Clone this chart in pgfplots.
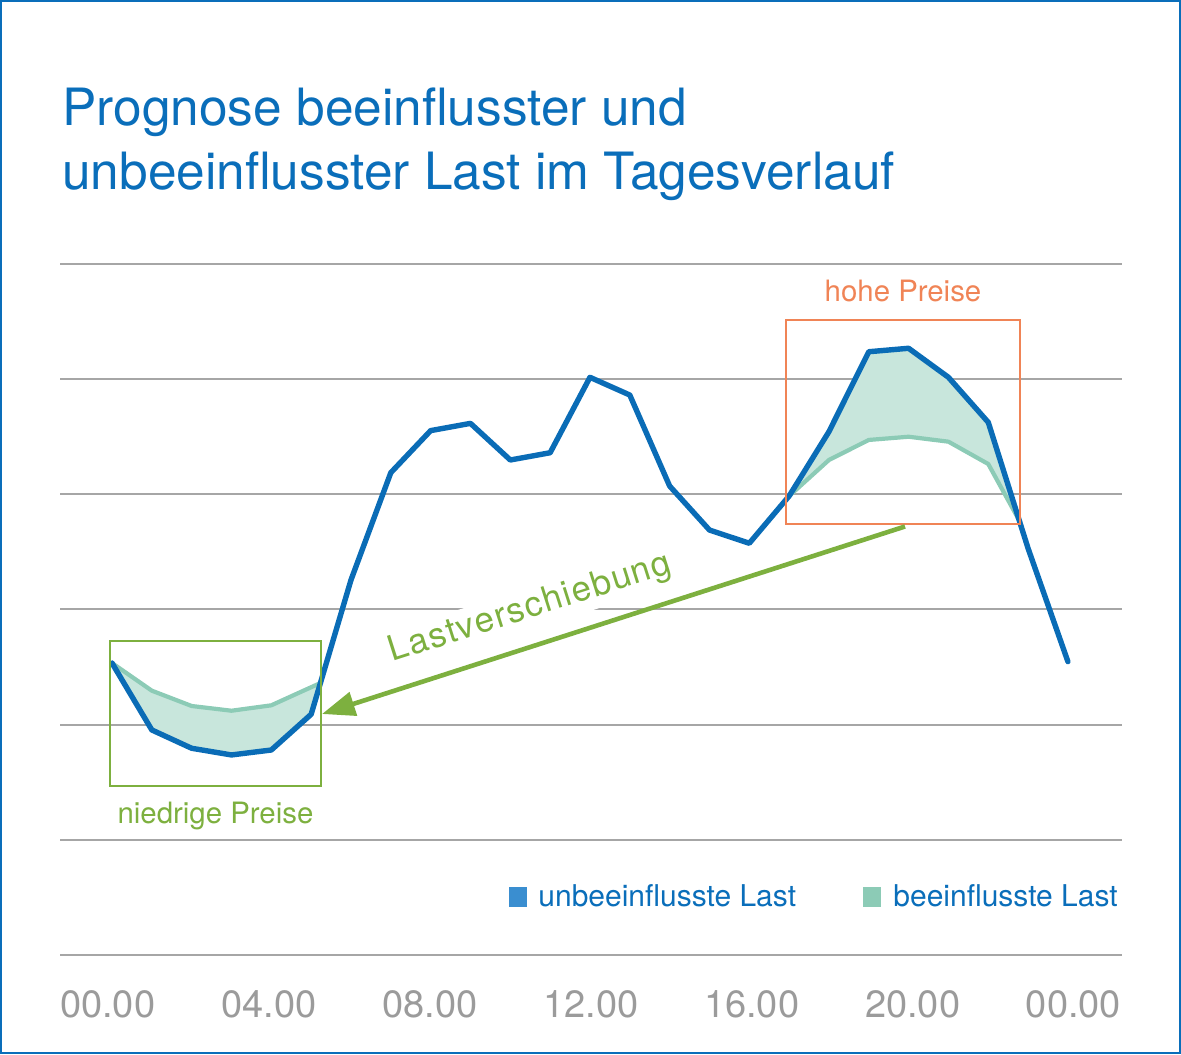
\documentclass[border=0pt]{standalone}
\usepackage{fontspec}
\setmainfont{TeX Gyre Heros}
\usepackage{pgfplots}
\usepackage{pgfplotstable}
\pgfplotsset{compat=1.18}
\usepgfplotslibrary{fillbetween}
\usetikzlibrary{arrows.meta}

\definecolor{titleblue}{HTML}{0A6EBA}
\definecolor{lineblue}{HTML}{0A6CB6}
\definecolor{legblue}{HTML}{3A8ED0}
\definecolor{fillgreen}{HTML}{C8E6DC}
\definecolor{linegreen}{HTML}{8CCBB6}
\definecolor{limeg}{HTML}{7DB03F}
\definecolor{orangeb}{HTML}{F08456}
\definecolor{gridgray}{HTML}{A6A6A6}
\definecolor{tickgray}{HTML}{9B9B9B}

\pgfplotstableread{
h load
0 2.535
1 1.954
2 1.795
3 1.737
4 1.780
5 2.090
6 3.256
7 4.188
8 4.553
9 4.616
10 4.298
11 4.361
12 5.016
13 4.862
14 4.072
15 3.690
16 3.575
17 3.985
18 4.544
19 5.238
20 5.268
21 5.016
22 4.625
23 3.530
24 2.547
}\unbeeinflusst

\pgfplotstableread{
h load
0 2.535
1 2.295
2 2.162
3 2.121
4 2.168
5.222 2.36
}\beeinflusstA

\pgfplotstableread{
h load
17 3.985
18 4.298
19 4.472
20 4.500
21 4.457
22 4.263
22.78 3.771
}\beeinflusstB

\begin{document}
\begin{tikzpicture}
\begin{axis}[
  set layers,
  x=19.915pt, y=57.585pt,
  xmin=-1.3055, xmax=25.358, ymin=-0.05, ymax=6.05,
  axis line style={draw=none},
  major tick length=0pt,
  ytick={0,1,2,3,4,5,6}, yticklabels={},
  ymajorgrids, grid style={draw=gridgray, line width=1pt},
  xtick={-0.11,3.94,7.98,12.02,16.06,20.10,24.14},
  xticklabels={00.00,04.00,08.00,12.00,16.00,20.00,00.00},
  xticklabel style={font=\fontsize{19}{19}\selectfont, text=tickgray, anchor=base, yshift=-28.3pt},
  /pgf/number format/assume math mode=true,
  clip=false,
]
\addplot[linegreen, line width=2.1pt, line join=round, name path=gA] table[x=h, y=load] {\beeinflusstA};
\addplot[linegreen, line width=2.1pt, line join=round, name path=gB] table[x=h, y=load] {\beeinflusstB};
\addplot[lineblue, line width=2.7pt, line join=round, line cap=round, name path=blue] table[x=h, y=load] {\unbeeinflusst};
\addplot[fillgreen, on layer=axis background] fill between[of=blue and gA, soft clip={domain=0:5.222}];
\addplot[fillgreen, on layer=axis background] fill between[of=blue and gB, soft clip={domain=17:22.78}];
\end{axis}
\begin{scope}[x=0.5pt, y=-0.5pt, shift={(-60,-960.76)}]
  % frame
  \draw[titleblue, line width=1.25pt] (1.25,1.25) rectangle (1179.75,1052.75);
  % title
  \node[anchor=base west, inner sep=0pt, text=titleblue, font=\fontsize{25.7}{31.5}\selectfont] at (62,126) {Prognose beeinflusster und};
  \node[anchor=base west, inner sep=0pt, text=titleblue, font=\fontsize{25.7}{31.5}\selectfont] at (62,189.3) {unbeeinflusster Last im Tagesverlauf};
  % boxes
  \draw[limeg, line width=0.85pt] (110,641) rectangle (321,786);
  \draw[orangeb, line width=0.85pt] (786,320) rectangle (1020,524);
  \node[anchor=base, inner sep=0pt, text=orangeb, font=\fontsize{14.7}{14.7}\selectfont] at (903,301.7) {hohe Preise};
  \node[anchor=base, inner sep=0pt, text=limeg, font=\fontsize{14.7}{14.7}\selectfont] at (215.5,823.3) {niedrige Preise};
  % arrow
  \draw[limeg, line width=2.3pt, -{Triangle[length=16.5pt, width=12pt]}] (905,526.5) -- (322,714);
  \node[anchor=base, rotate=17.7, fill=white, inner sep=2pt, text=limeg, font=\fontsize{17.5}{17.5}\selectfont\addfontfeature{LetterSpace=4}] at (533,617) {Lastverschiebung};
  % legend
  \fill[legblue] (509,887) rectangle (527,907);
  \node[anchor=base west, inner sep=0pt, text=titleblue, font=\fontsize{15}{15}\selectfont] at (538,906.7) {unbeeinflusste Last};
  \fill[linegreen] (863,887) rectangle (881,907);
  \node[anchor=base west, inner sep=0pt, text=titleblue, font=\fontsize{15}{15}\selectfont] at (893,906.7) {beeinflusste Last};
\end{scope}
\end{tikzpicture}
\end{document}
